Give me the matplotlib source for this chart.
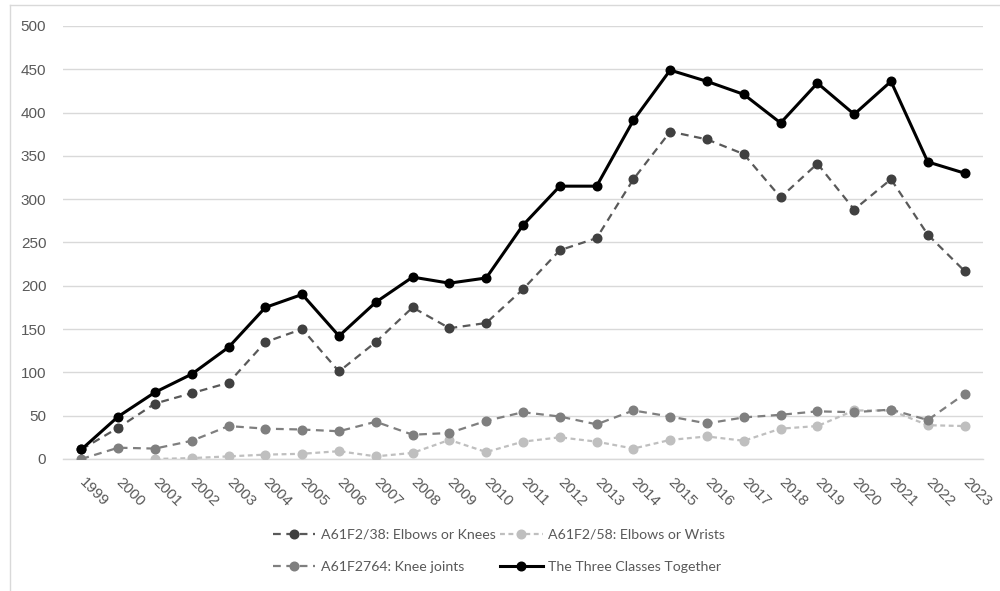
import numpy as np
import matplotlib
matplotlib.use("Agg")
import matplotlib.pyplot as plt
from matplotlib.lines import Line2D

# Yearly counts per class
years = [str(y) for y in range(1999, 2024)]
elbows_knees = [11, 36, 64, 76, 88, 135, 150, 101, 135, 175, 151, 157, 196,
                241, 255, 323, 378, 369, 352, 302, 341, 288, 323, 259, 217]
elbows_wrists = [np.nan, np.nan, 0, 1, 3, 5, 6, 9, 3, 7, 22, 8, 20,
                 25, 20, 12, 22, 26, 21, 35, 38, 56, 56, 39, 38]
knee_joints = [0, 13, 12, 21, 38, 35, 34, 32, 43, 28, 30, 44, 54,
               49, 40, 56, 49, 41, 48, 51, 55, 54, 57, 45, 75]
all_three = [11, 49, 77, 98, 129, 175, 190, 142, 181, 210, 203, 209, 270,
             315, 315, 391, 449, 436, 421, 388, 434, 398, 436, 343, 330]

label_ek = "A61F2/38: Elbows or Knees"
label_ew = "A61F2/58: Elbows or Wrists"
label_kj = "A61F2764: Knee joints"
label_all = "The Three Classes Together"

text_grey = "#595959"
x = np.arange(len(years))

fig = plt.figure(figsize=(10, 5.91), dpi=100)
ax = fig.add_axes([0.063, 0.2234, 0.92, 0.7327])

l_ew, = ax.plot(x, elbows_wrists, color="#BFBFBF", lw=1.6, ls=(0, (2.2, 1.6)),
                marker="o", ms=6.2, mec="#BFBFBF", mfc="#BFBFBF", zorder=3)
l_kj, = ax.plot(x, knee_joints, color="#7F7F7F", lw=1.6, ls=(0, (3.5, 2.5)),
                marker="o", ms=6.2, mec="#7F7F7F", mfc="#7F7F7F", zorder=4)
l_ek, = ax.plot(x, elbows_knees, color="#595959", lw=1.6, ls=(0, (3.5, 2.5)),
                marker="o", ms=6.2, mec="#404040", mfc="#404040", zorder=5)
l_all, = ax.plot(x, all_three, color="black", lw=2.2, ls="-",
                 marker="o", ms=6.2, mec="black", mfc="black", zorder=6)

ax.set_xlim(-0.5, len(years) - 0.5)
ax.set_ylim(0, 500)
ax.set_yticks(range(0, 501, 50))
ax.set_xticks(x)
ax.set_xticklabels(years, rotation=-45, ha="left", va="center",
                   rotation_mode="anchor", family="Liberation Sans",
                   fontsize=11, color=text_grey)
for lab in ax.get_yticklabels():
    lab.set_family("Liberation Sans")
    lab.set_fontsize(11)
    lab.set_color(text_grey)

ax.tick_params(axis="x", length=0, pad=15)
ax.tick_params(axis="y", length=0, pad=12)
ax.grid(axis="y", color="#D9D9D9", lw=1.0)
ax.set_axisbelow(True)
for side in ["top", "right", "left"]:
    ax.spines[side].set_visible(False)
ax.spines["bottom"].set_color("#D9D9D9")
ax.spines["bottom"].set_linewidth(1.0)

leg = fig.legend([l_ek, l_kj, l_ew, l_all], [label_ek, label_kj, label_ew, label_all],
                 ncol=2, loc="center", bbox_to_anchor=(0.499, 0.068),
                 frameon=False, handlelength=3.0, handletextpad=0.4,
                 columnspacing=0.3, labelspacing=1.45,
                 prop={"family": "Lato", "size": 10.2})
for t in leg.get_texts():
    t.set_color(text_grey)

# thin chart-area border along left and top
fig.add_artist(Line2D([0.0095, 0.0095], [0, 0.9915], transform=fig.transFigure,
                      color="#D9D9D9", lw=1.0))
fig.add_artist(Line2D([0.0095, 1.0], [0.9915, 0.9915], transform=fig.transFigure,
                      color="#D9D9D9", lw=1.0))

fig.savefig("out.png", dpi=100)
